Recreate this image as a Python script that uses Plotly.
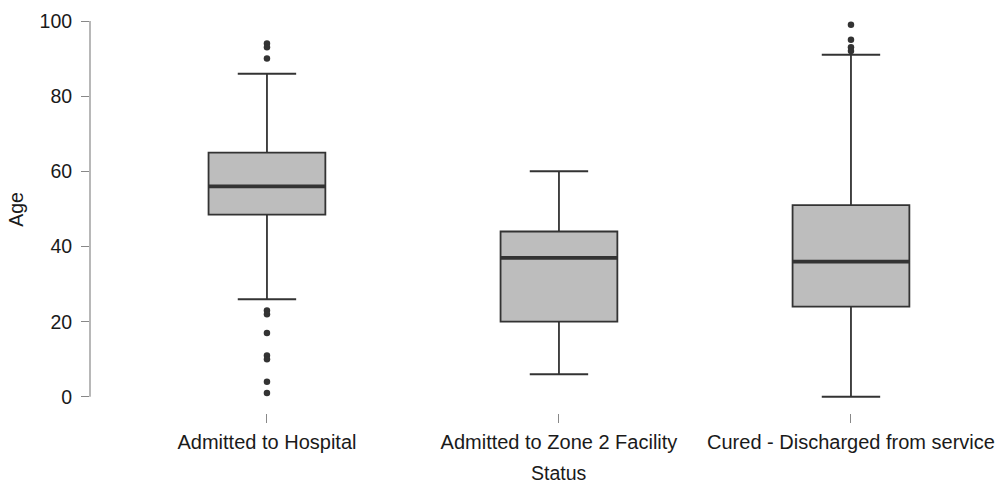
import plotly.graph_objects as go

categories = ["Admitted to Hospital", "Admitted to Zone 2 Facility", "Cured - Discharged from service"]
q1 = [48.5, 20, 24]
medians = [56, 37, 36]
q3 = [65, 44, 51]
lower_whisker = [26, 6, 0]
upper_whisker = [86, 60, 91]
outliers = [
    [94, 93, 90, 23, 22, 17, 11, 10, 4, 1],
    [],
    [99, 95, 93, 92],
]
y_ticks = [0, 20, 40, 60, 80, 100]
x_title = "Status"
y_title = "Age"

BOX_W = 0.4
CAP_W = 0.2
LINE = "#333333"
FILL = "#bdbdbd"
FONT = "Liberation Sans, Arial, sans-serif"

pos = list(range(len(categories)))

fig = go.Figure()
fig.add_trace(go.Box(
    x=pos, q1=q1, median=medians, q3=q3,
    lowerfence=lower_whisker, upperfence=upper_whisker,
    width=BOX_W, fillcolor=FILL,
    line=dict(color=LINE, width=1.8),
    whiskerwidth=0, showlegend=False, hoverinfo="skip",
))

# medians (thicker)
mx, my = [], []
for i, m in zip(pos, medians):
    mx += [i - BOX_W / 2, i + BOX_W / 2, None]
    my += [m, m, None]
fig.add_trace(go.Scatter(x=mx, y=my, mode="lines",
                         line=dict(color=LINE, width=3.8), showlegend=False, hoverinfo="skip"))

# whisker caps
cx, cy = [], []
for i, lo, hi in zip(pos, lower_whisker, upper_whisker):
    for v in (lo, hi):
        cx += [i - CAP_W / 2, i + CAP_W / 2, None]
        cy += [v, v, None]
fig.add_trace(go.Scatter(x=cx, y=cy, mode="lines",
                         line=dict(color=LINE, width=2), showlegend=False, hoverinfo="skip"))

# outliers
ox, oy = [], []
for i, pts in zip(pos, outliers):
    ox += [i] * len(pts)
    oy += pts
fig.add_trace(go.Scatter(x=ox, y=oy, mode="markers",
                         marker=dict(color=LINE, size=6.5), showlegend=False, hoverinfo="skip"))

# y axis line from 0 to 100 only
fig.add_shape(type="line", xref="paper", yref="y", x0=0, x1=0,
              y0=y_ticks[0], y1=y_ticks[-1], line=dict(color="#888888", width=1.2))

# x axis title centred under the middle category
fig.add_annotation(text=x_title, xref="x", yref="paper", x=pos[len(pos) // 2], y=0,
                   yanchor="middle", yshift=-60, showarrow=False, borderpad=0,
                   font=dict(size=19.5, color="#1a1a1a"))

fig.update_layout(
    width=995, height=485,
    margin=dict(l=90, r=10, t=6, b=72),
    plot_bgcolor="white", paper_bgcolor="white",
    font=dict(family=FONT, size=19.5, color="#1a1a1a"),
    xaxis=dict(
        range=[-0.606, 2.459],
        tickmode="array", tickvals=pos, ticktext=categories,
        ticks="outside", ticklen=9, tickcolor="#888888", tickwidth=1.2,
        tickfont=dict(size=20), ticklabelstandoff=2,
        showline=False, showgrid=False, zeroline=False, automargin=False,
    ),
    yaxis=dict(
        range=[-4.3, 104],
        tickmode="array", tickvals=y_ticks,
        ticks="outside", ticklen=8, tickcolor="#888888", tickwidth=1.2,
        tickfont=dict(size=19.5), ticklabelstandoff=5,
        showline=False, showgrid=False, zeroline=False, automargin=False,
        title=dict(text=y_title, standoff=10, font=dict(size=19.5)),
    ),
)

fig.write_html("out.html", config={"displayModeBar": False},
               post_script="document.body.style.margin='0';document.body.style.overflow='hidden';")
